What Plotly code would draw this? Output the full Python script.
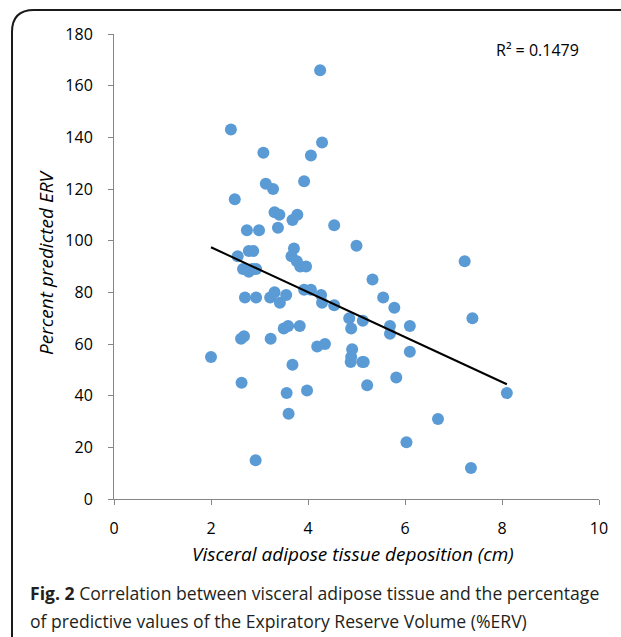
import numpy as np
import plotly.graph_objects as go

# visceral adipose tissue deposition (cm) and percent predicted ERV
vat_cm = [4.25, 2.41, 4.29, 3.08, 4.06, 3.92, 3.13, 3.28, 2.49, 3.31,
          3.41, 3.68, 3.78, 4.54, 3.38, 2.74, 2.99, 5.00, 3.71, 2.78,
          2.87, 2.55, 3.66, 3.77, 3.84, 3.96, 2.66, 2.78, 2.85, 2.93,
          5.33, 5.55, 2.70, 2.93, 3.31, 3.22, 3.42, 3.55, 3.92, 4.06,
          4.27, 4.29, 4.54, 4.85, 4.89, 5.13, 2.62, 2.68, 3.23, 3.50,
          3.59, 3.83, 4.19, 4.35, 4.91, 4.89, 4.88, 5.12, 5.15, 2.00,
          3.68, 2.63, 5.22, 3.56, 3.98, 3.60, 2.92, 7.23, 5.78, 7.39,
          5.69, 5.69, 6.10, 6.10, 5.82, 8.10, 6.68, 6.03, 7.36]
erv_pct = [166, 143, 138, 134, 133, 123, 122, 120, 116, 111,
           110, 108, 110, 106, 105, 104, 104, 98, 97, 96,
           96, 94, 94, 92, 90, 90, 89, 88, 89, 89,
           85, 78, 78, 78, 80, 78, 76, 79, 81, 81,
           79, 76, 75, 70, 66, 69, 62, 63, 62, 66,
           67, 67, 59, 60, 58, 55, 53, 53, 53, 55,
           52, 45, 44, 41, 42, 33, 15, 92, 74, 70,
           67, 64, 67, 57, 47, 41, 31, 22, 12]

x_ticks = [0, 2, 4, 6, 8, 10]
y_ticks = [0, 20, 40, 60, 80, 100, 120, 140, 160, 180]

# linear trendline like Excel's
slope, icpt = np.polyfit(vat_cm, erv_pct, 1)
xs = np.array([min(vat_cm), max(vat_cm)])
pred = slope * np.array(vat_cm) + icpt
r2 = 1 - np.sum((np.array(erv_pct) - pred) ** 2) / np.sum((np.array(erv_pct) - np.mean(erv_pct)) ** 2)

FONT = "Open Sans"
AXIS = "#868686"

fig = go.Figure()

fig.add_trace(go.Scatter(
    x=vat_cm, y=erv_pct, mode='markers',
    marker=dict(color='#5B9BD5', size=12, line=dict(width=0)),
    showlegend=False))

fig.add_trace(go.Scatter(
    x=xs, y=slope * xs + icpt, mode='lines',
    line=dict(color='black', width=2), showlegend=False))

fig.update_xaxes(range=[0, 10], tickvals=x_ticks, showgrid=False, zeroline=False,
                 showline=True, linecolor=AXIS, linewidth=1,
                 ticks='outside', ticklen=5, tickcolor=AXIS,
                 ticklabelstandoff=10,
                 tickfont=dict(family=FONT, size=16, color='black'))
fig.update_yaxes(range=[0, 180], tickvals=y_ticks, showgrid=False, zeroline=False,
                 showline=True, linecolor=AXIS, linewidth=1,
                 ticks='outside', ticklen=5, tickcolor=AXIS,
                 ticklabelstandoff=12,
                 tickfont=dict(family=FONT, size=16, color='black'))

# panel frame with rounded top-left corner (runs off the page right and bottom)
L, T = (12 - 114) / 485, (499 - 10) / 465
rx, ry = 22 / 485, 22 / 465
frame = (f"M {L} -0.4 L {L} {T - ry} Q {L} {T} {L + rx} {T} L 1.2 {T}")
fig.add_shape(type='path', path=frame, xref='paper', yref='paper',
              line=dict(color='#1a1a1a', width=2))

ann = []
ann.append(dict(text=f"R² = {r2:.4f}", x=0.963, y=0.9656, xanchor='right', yanchor='middle',
                font=dict(family=FONT, size=16, color='black')))
ann.append(dict(text="<i>Visceral adipose tissue deposition (cm)</i>", x=0.4928, y=-0.1183,
                xanchor='center', yanchor='middle',
                font=dict(family=FONT, size=19, color='black')))
ann.append(dict(text="<i>Percent predicted ERV</i>", x=-0.1402, y=0.5097, textangle=-90,
                xanchor='center', yanchor='middle',
                font=dict(family=FONT, size=19, color='black')))
ann.append(dict(text="<b>Fig. 2</b> Correlation between visceral adipose tissue and the percentage",
                x=-0.1773, y=(499 - 593) / 465, xanchor='left', yanchor='middle',
                font=dict(family=FONT, size=17.6, color='#231f20')))
ann.append(dict(text="of predictive values of the Expiratory Reserve Volume (%ERV)",
                x=-0.1773, y=(499 - 621) / 465, xanchor='left', yanchor='middle',
                font=dict(family=FONT, size=17.6, color='#231f20')))
for a in ann:
    a.update(xref='paper', yref='paper', showarrow=False)

fig.update_layout(width=621, height=637,
                  margin=dict(l=114, r=22, t=34, b=138),
                  plot_bgcolor='white', paper_bgcolor='white',
                  annotations=ann)

# drop the browser's default body margin so the figure sits at the page corner
fig.write_html("out.html", config={'displayModeBar': False},
               post_script="document.body.style.margin='0';")
